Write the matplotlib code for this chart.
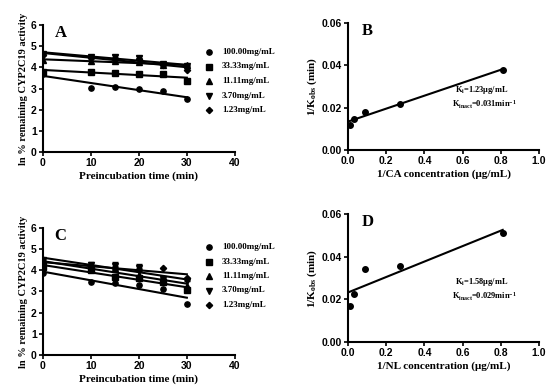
import numpy as np
import matplotlib
matplotlib.use("Agg")
import matplotlib.pyplot as plt

# ---------------- data ----------------
times = [0, 10, 15, 20, 25, 30]
conc_labels = ["100.00mg/mL", "33.33mg/mL", "11.11mg/mL", "3.70mg/mL", "1.23mg/mL"]
markers = ["o", "s", "^", "v", "D"]

a_100 = [3.70, 3.05, 3.08, 3.00, 2.90, 2.50]
a_33 = [3.80, 3.78, 3.75, 3.70, 3.68, 3.35]
a_11 = [4.35, 4.30, 4.28, 4.25, 4.10, 4.10]
a_3p7 = [4.65, 4.50, 4.50, 4.45, 4.15, 4.05]
a_1p2 = [4.60, 4.45, 4.40, 4.40, 4.10, 3.88]
a_err = [0.05, 0.08, 0.08, 0.08, 0.06, 0.05]

c_100 = [3.85, 3.45, 3.40, 3.32, 3.10, 2.40]
c_33 = [4.15, 4.00, 3.70, 3.65, 3.45, 3.05]
c_11 = [4.30, 4.10, 4.10, 3.80, 3.50, 3.25]
c_3p7 = [4.50, 4.25, 4.20, 4.10, 3.60, 3.50]
c_1p2 = [4.35, 4.20, 4.10, 4.00, 4.10, 3.65]
c_err = [0.05, 0.12, 0.20, 0.18, 0.06, 0.05]

inv_conc = [0.01, 0.03, 0.09, 0.27, 0.81]
b_kobs = [0.012, 0.0145, 0.018, 0.022, 0.038]
d_kobs = [0.017, 0.0225, 0.034, 0.0355, 0.051]

# ---------------- style ----------------
serif = "Liberation Serif"
sans = "Liberation Sans"
plt.rcParams["font.family"] = sans
plt.rcParams["font.weight"] = "bold"
plt.rcParams["mathtext.fontset"] = "custom"
plt.rcParams["mathtext.rm"] = "Liberation Serif:bold"
plt.rcParams["mathtext.bf"] = "Liberation Serif:bold"
plt.rcParams["mathtext.it"] = "Liberation Serif:bold"

fig = plt.figure(figsize=(5.5, 3.91), dpi=100)


def style_axes(ax):
    for s in ["top", "right"]:
        ax.spines[s].set_visible(False)
    for s in ["left", "bottom"]:
        ax.spines[s].set_linewidth(1.5)
    ax.tick_params(direction="out", length=3, width=1.2, labelsize=7.5, pad=1.5)
    for lab in ax.get_xticklabels() + ax.get_yticklabels():
        lab.set_fontweight("bold")
        lab.set_fontfamily(sans)


def time_panel(rect, series, errs, letter, legend_y):
    ax = fig.add_axes(rect)
    t = np.array(times)
    for i, (ys, m) in enumerate(zip(series, markers)):
        ys = np.array(ys)
        ms = 3.8 if m != "D" else 3.2
        if i == 3:
            ax.errorbar(t, ys, yerr=[np.zeros_like(t, dtype=float), errs], fmt=m, color="black",
                        ms=ms, capsize=2, elinewidth=1, capthick=1, zorder=3)
        else:
            ax.plot(t, ys, m, color="black", ms=ms, zorder=3)
        k, b = np.polyfit(t, ys, 1)
        xx = np.array([0, 30])
        ax.plot(xx, k * xx + b, color="black", lw=1.5, zorder=2)
    ax.set_xlim(0, 40)
    ax.set_ylim(0, 6)
    ax.set_xticks([0, 10, 20, 30, 40])
    ax.set_yticks([0, 1, 2, 3, 4, 5, 6])
    style_axes(ax)
    ax.set_xlabel("Preincubation time (min)", fontfamily=serif, fontweight="bold", fontsize=8, labelpad=2)
    ax.set_ylabel("ln % remaining CYP2C19 activity", fontfamily=serif, fontweight="bold", fontsize=7.5, labelpad=2)
    ax.text(0.06, 1.0, letter, transform=ax.transAxes, fontfamily=serif, fontweight="bold",
            fontsize=12, va="top", ha="left")
    # legend
    for i, (lab, m) in enumerate(zip(conc_labels, markers)):
        y = legend_y - i * 14.5
        fig.lines.append(matplotlib.lines.Line2D([209 / 550], [y / 391], marker=m, color="black",
                                                 ms=3.8 if m != "D" else 3.2, transform=fig.transFigure))
        fig.text(222 / 550, y / 391, lab, fontfamily=serif, fontweight="bold", fontsize=6.5,
                 va="center", ha="left")
    return ax


def kobs_panel(rect, xs, ys, letter, xlabel, t1, t2, txy):
    ax = fig.add_axes(rect)
    x = np.array(xs)
    y = np.array(ys)
    ax.plot(x, y, "o", color="black", ms=4, zorder=3)
    k, b = np.polyfit(x, y, 1)
    xx = np.array([0, x.max()])
    ax.plot(xx, k * xx + b, color="black", lw=1.5)
    ax.set_xlim(0, 1.0)
    ax.set_ylim(0, 0.06)
    ax.set_xticks([0.0, 0.2, 0.4, 0.6, 0.8, 1.0])
    ax.set_xticklabels(["0.0", "0.2", "0.4", "0.6", "0.8", "1.0"])
    ax.set_yticks([0.0, 0.02, 0.04, 0.06])
    ax.set_yticklabels(["0.00", "0.02", "0.04", "0.06"])
    style_axes(ax)
    ax.set_xlabel(xlabel, fontfamily=serif, fontweight="bold", fontsize=8, labelpad=2)
    ax.set_ylabel(r"1/K$_{\mathbf{obs}}$ (min)", fontfamily=serif, fontweight="bold", fontsize=8, labelpad=2)
    ax.text(0.07, 1.0, letter, transform=ax.transAxes, fontfamily=serif, fontweight="bold",
            fontsize=12, va="top", ha="left")
    ax.text(txy[0], txy[1], t1, transform=ax.transAxes, fontfamily=serif, fontweight="bold",
            fontsize=6, ha="left", va="center")
    ax.text(txy[0] - 0.015, txy[1] - 0.115, t2, transform=ax.transAxes, fontfamily=serif, fontweight="bold",
            fontsize=6, ha="left", va="center")
    return ax


time_panel([0.078, 0.611, 0.349, 0.325], [a_100, a_33, a_11, a_3p7, a_1p2], a_err, "A", 391 - 52)
kobs_panel([0.633, 0.616, 0.347, 0.325], inv_conc, b_kobs, "B", "1/CA concentration (μg/mL)",
           r"K$_{\mathrm{i}}$=1.23μg/mL", r"K$_{\mathrm{inact}}$=0.031min$^{\mathrm{-1}}$", (0.56, 0.47))
time_panel([0.078, 0.092, 0.349, 0.325], [c_100, c_33, c_11, c_3p7, c_1p2], c_err, "C", 391 - 247)
kobs_panel([0.633, 0.125, 0.347, 0.328], inv_conc, d_kobs, "D", "1/NL concentration (μg/mL)",
           r"K$_{\mathrm{i}}$=1.58μg/mL", r"K$_{\mathrm{inact}}$=0.029min$^{\mathrm{-1}}$", (0.56, 0.47))

fig.savefig("out.png", dpi=100)
